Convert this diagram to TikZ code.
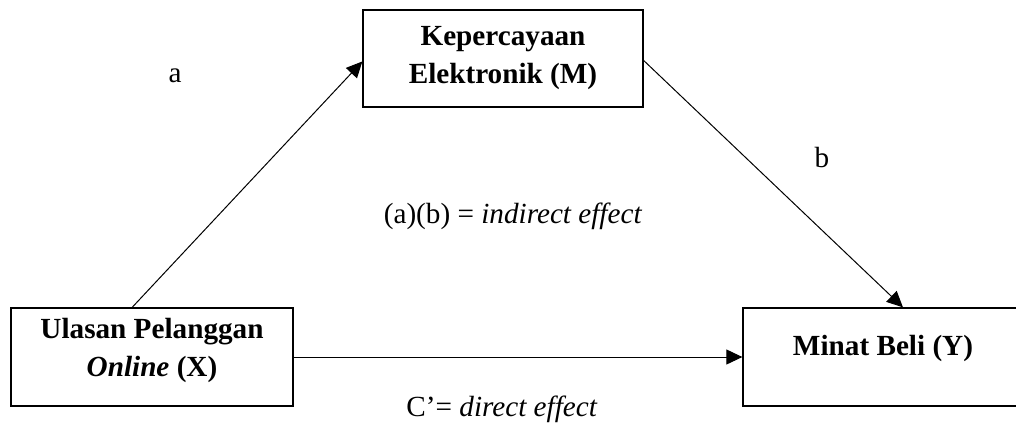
\documentclass[tikz,border=0pt]{standalone}
\usepackage{fontspec}
\setmainfont{Liberation Serif}
\usetikzlibrary{arrows.meta,calc}

\tikzset{
  txt/.style={font=\fontsize{14.6}{19}\selectfont, inner sep=0pt},
  boxtxt/.style={txt, font=\fontsize{14.6}{19}\selectfont\bfseries, align=center},
  varbox/.style={draw, line width=0.65pt, minimum width=140pt, inner sep=0pt},
  path/.style={line width=0.5pt, -{Triangle[length=8pt,width=7.5pt]}}
}

\begin{document}
\begin{tikzpicture}[x=0.5pt,y=-0.5pt]
  \clip (0,0) rectangle (1016,428);
  \useasboundingbox (0,0) rectangle (1016,428);

  % variable boxes
  \node[varbox, boxtxt, minimum height=48.5pt] (M) at (503,58.5)
    {Kepercayaan\\Elektronik (M)};
  \node[varbox, minimum width=141pt, minimum height=49pt] (X) at (152,357) {};
  \node[boxtxt] (Xt) at (152,350) {Ulasan Pelanggan\\\textit{Online} (X)};
  \node[varbox, minimum height=49pt] (Y) at (883,357) {};
  \node[boxtxt, anchor=base] (Yt) at (883,355) {Minat Beli (Y)};

  % paths
  \draw[path] ($(X.north west)!0.43!(X.north east)$) -- ($(M.north west)!0.53!(M.south west)$);
  \draw[path] ($(M.north east)!0.52!(M.south east)$) -- ($(Y.north west)!0.571!(Y.north east)$);
  \draw[path] (X.east) -- (Y.west);

  % path labels
  \node[txt, anchor=base] (la) at (175,82) {a};
  \node[txt, anchor=base] (lb) at (822,167) {b};
  \node[txt, anchor=base] (lind) at (513,223) {(a)(b) = \textit{indirect effect}};
  \node[txt, anchor=base] (ldir) at (502,416) {C’= \textit{direct effect}};
\end{tikzpicture}
\end{document}
